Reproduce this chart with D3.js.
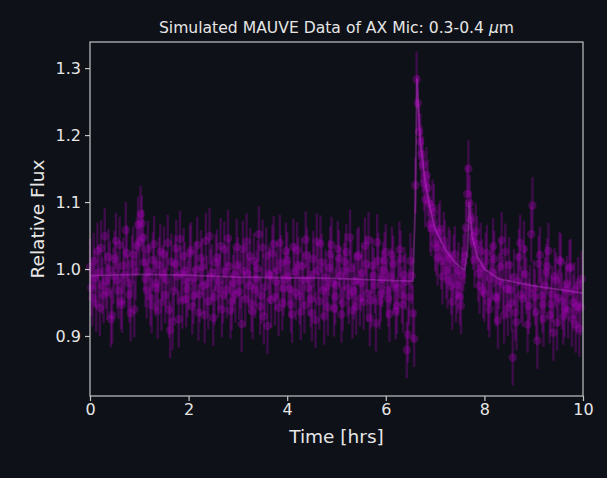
<!DOCTYPE html>
<html><head><meta charset="utf-8">
<script src="https://cdn.jsdelivr.net/npm/d3@7"></script>
<style>
html,body{margin:0;padding:0;background:#0e1117;}
svg{display:block;font-family:"DejaVu Sans",sans-serif;}
</style></head><body>
<svg id="chart" width="607" height="478"></svg>
<script>
// ---- data ----
const titleText = "Simulated MAUVE Data of AX Mic: 0.3-0.4 ";
const xLabel = "Time [hrs]";
const yLabel = "Relative Flux";
const xTicks = [0, 2, 4, 6, 8, 10];
const yTicks = [0.9, 1.0, 1.1, 1.2, 1.3];
// flux sampled at t = 0.025, 0.075, ... 9.975 hrs
const fluxA = [
 0.972,1.012,0.948,0.995,1.031,0.961,0.983,1.018,0.925,0.990,1.042,0.968,0.952,1.005,1.058,0.979,0.934,1.021,0.996,1.066,
 1.082,1.047,0.985,1.030,0.957,1.013,0.972,0.938,1.026,0.994,0.961,1.039,0.909,0.921,1.008,0.989,1.045,0.953,0.998,0.970,
 1.024,0.944,0.987,1.036,0.962,1.003,0.931,0.978,1.049,0.995,0.958,1.017,0.982,0.940,1.029,0.969,1.004,0.951,0.991,1.033,
 0.966,0.918,0.997,1.041,0.975,0.948,1.012,0.986,1.052,0.960,0.929,1.020,0.993,0.954,1.037,0.981,0.942,1.009,0.971,1.027,
 0.989,0.947,1.033,0.965,1.006,0.936,0.984,1.044,0.972,0.955,1.015,0.924,0.998,1.038,0.968,0.987,0.943,1.022,0.979,0.959,
 1.030,0.990,0.949,1.011,0.971,1.047,0.938,0.983,1.018,0.956,0.994,1.035,0.963,0.927,1.005,0.976,1.040,0.952,0.985,1.013,
 0.968,0.933,1.021,0.977,0.945,1.029,0.961,0.991,0.879,0.958,0.990,0.896,
 1.283,1.205,1.172,1.128,1.140,1.098,1.061,1.085,1.032,1.055,1.012,1.043,0.998,1.021,0.974,1.009,0.962,0.998,0.945,1.010,
 1.062,1.150,1.074,1.041,1.056,0.993,1.027,0.968,
 1.012,0.951,0.986,1.034,0.959,0.923,1.003,0.977,1.026,0.942,0.969,0.868,0.935,0.981,1.039,0.956,0.992,0.917,0.964,1.095,
 0.958,0.893,1.021,0.947,0.975,1.004,0.931,0.962,0.989,0.920,1.013,0.952,0.940,0.978,1.001,0.926,0.968,0.944,0.911,0.985
];
// flux sampled at t = 0.00, 0.05, ... 9.95 hrs
const fluxB = [
 1.003,0.957,0.986,1.027,0.942,0.975,1.049,0.966,0.999,0.931,1.015,0.983,1.036,0.947,0.991,1.024,0.962,1.008,0.940,1.035,
 1.041,1.068,1.010,0.968,0.996,0.946,1.037,0.979,1.006,0.950,1.022,0.984,0.939,1.011,0.967,1.031,0.925,0.993,1.019,0.955,
 0.981,1.028,0.960,0.999,0.935,1.016,0.975,1.042,0.952,0.988,0.927,1.010,0.970,1.034,0.961,0.996,1.046,0.938,0.979,0.962,
 1.006,0.983,1.030,0.955,0.993,1.019,0.937,0.969,1.001,0.944,1.032,0.973,0.915,0.990,1.024,0.958,0.998,1.039,0.950,0.984,
 1.013,0.970,0.932,0.996,1.028,0.959,1.004,0.946,1.020,0.985,0.934,0.993,1.041,0.952,1.010,0.929,0.974,1.002,1.036,0.941,
 0.976,1.016,0.932,0.997,1.025,0.960,1.001,0.967,0.944,1.021,0.979,0.951,1.008,1.043,0.953,0.990,0.919,1.012,0.963,0.998,
 1.025,0.956,0.989,1.008,0.937,0.972,1.015,0.947,0.981,0.902,1.012,0.934,
 1.125,1.248,1.190,1.156,1.104,1.121,1.067,1.092,1.038,1.017,1.060,0.989,1.031,0.983,1.016,0.951,1.022,0.976,0.958,0.991,
 1.020,1.112,1.098,1.049,1.014,1.037,0.975,1.002,
 0.963,1.024,0.940,0.995,1.015,0.956,0.982,1.043,0.931,0.970,1.006,0.949,0.988,0.921,1.018,0.962,1.030,0.975,0.945,1.052,
 0.971,0.936,1.008,0.960,0.926,0.995,1.027,0.948,0.905,0.983,0.957,1.011,0.929,0.969,0.938,1.003,0.950,0.917,0.976,0.943
];
const fluxErr = 0.042;
const modelTime = [0,1,2,3,4,5,6,6.55,6.6,6.63,6.7,6.8,6.9,7.0,7.2,7.4,7.6,7.66,7.69,7.75,7.85,8.0,8.3,9,10];
const modelFlux = [0.990,0.992,0.991,0.988,0.987,0.986,0.983,0.982,1.10,1.285,1.19,1.13,1.09,1.06,1.03,1.01,0.998,1.03,1.10,1.05,1.02,1.0,0.985,0.975,0.964];

// ---- layout ----
const svg = d3.select("#chart");
const L = 90, R = 583, T = 42, B = 396;
const x = d3.scaleLinear().domain([0, 10]).range([L, R]);
const y = d3.scaleLinear().domain([0.8104, 1.339]).range([B, T]);
const textCol = "#e6e6e6", frameCol = "#c4c4c4";
const markCol = "#b400c4";

const defs = svg.append("defs");
defs.append("filter").attr("id", "soft").attr("x", "-5%").attr("y", "-5%").attr("width", "110%").attr("height", "110%")
  .append("feGaussianBlur").attr("stdDeviation", 0.7);

const pts = fluxA.map((f, i) => ({t: 0.025 + i * 0.05, f}))
  .concat(fluxB.map((f, i) => ({t: i * 0.05, f})));

const g = svg.append("g").attr("filter", "url(#soft)");
g.selectAll("line.err").data(pts).join("line")
  .attr("x1", d => x(d.t)).attr("x2", d => x(d.t))
  .attr("y1", d => y(d.f - fluxErr)).attr("y2", d => y(d.f + fluxErr))
  .attr("stroke", markCol).attr("stroke-opacity", 0.28).attr("stroke-width", 2.4);
g.selectAll("circle").data(pts).join("circle")
  .attr("cx", d => x(d.t)).attr("cy", d => y(d.f)).attr("r", 4.2)
  .attr("fill", markCol).attr("fill-opacity", 0.3);
g.append("path")
  .datum(modelTime.map((t, i) => [t, modelFlux[i]]))
  .attr("d", d3.line().x(d => x(d[0])).y(d => y(d[1])))
  .attr("fill", "none").attr("stroke", "#c838d8").attr("stroke-opacity", 0.4).attr("stroke-width", 1.8);

svg.append("rect").attr("x", L).attr("y", T).attr("width", R - L).attr("height", B - T)
  .attr("fill", "none").attr("stroke", frameCol).attr("stroke-width", 1.2);

const xAx = svg.append("g").attr("transform", `translate(0,${B})`)
  .call(d3.axisBottom(x).tickValues(xTicks).tickFormat(d3.format("d")).tickSize(5).tickPadding(3));
const yAx = svg.append("g").attr("transform", `translate(${L},0)`)
  .call(d3.axisLeft(y).tickValues(yTicks).tickFormat(d3.format(".1f")).tickSize(5).tickPadding(4));
[xAx, yAx].forEach(a => {
  a.select(".domain").remove();
  a.selectAll("line").attr("stroke", frameCol).attr("stroke-width", 1.2);
  a.selectAll("text").attr("fill", textCol).attr("font-size", 16).attr("font-family", "DejaVu Sans");
});

svg.append("text").attr("x", (L + R) / 2).attr("y", 443).attr("text-anchor", "middle")
  .attr("fill", textCol).attr("font-size", 18.5).text(xLabel);
svg.append("text").attr("transform", `translate(44,${(T + B) / 2}) rotate(-90)`).attr("text-anchor", "middle")
  .attr("fill", textCol).attr("font-size", 18.5).text(yLabel);
const title = svg.append("text").attr("x", (L + R) / 2).attr("y", 33).attr("text-anchor", "middle")
  .attr("fill", textCol).attr("font-size", 15.6);
title.append("tspan").text(titleText);
title.append("tspan").attr("font-style", "italic").text("μ");
title.append("tspan").text("m");
</script></body></html>
